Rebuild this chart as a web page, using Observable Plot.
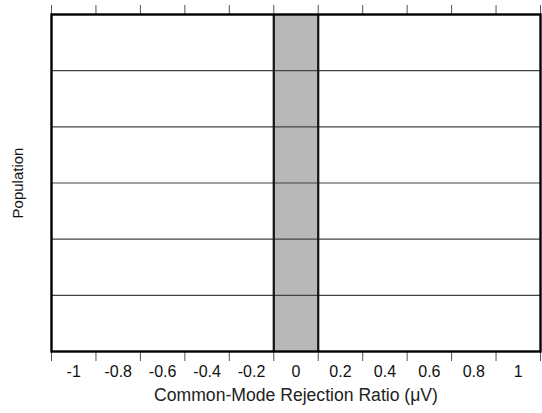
<!DOCTYPE html>
<html>
<head>
<meta charset="utf-8">
<script src="https://cdn.jsdelivr.net/npm/d3@7"></script>
<script src="https://cdn.jsdelivr.net/npm/@observablehq/plot@0.6"></script>
<style>
  html, body { margin: 0; padding: 0; background: #fff; }
  svg { display: block; }
</style>
</head>
<body>
<div id="chart"></div>
<script>
// Bin edges of the x axis (tick marks) and the bin centres (tick labels)
const binEdges = [-1.1, -0.9, -0.7, -0.5, -0.3, -0.1, 0.1, 0.3, 0.5, 0.7, 0.9, 1.1];
const binCenters = [-1, -0.8, -0.6, -0.4, -0.2, 0, 0.2, 0.4, 0.6, 0.8, 1];
const tickLabels = ["-1", "-0.8", "-0.6", "-0.4", "-0.2", "0", "0.2", "0.4", "0.6", "0.8", "1"];
// Highlighted bin
const highlightBins = [{x1: -0.1, x2: 0.1}];
// Population rows (horizontal separators)
const rowCount = 6;
const rowLines = [1, 2, 3, 4, 5];

const font = "Liberation Sans, Arial, Helvetica, sans-serif";

const chart = Plot.plot({
  width: 542,
  height: 413,
  marginLeft: 51,
  marginRight: 2,
  marginTop: 14,
  marginBottom: 62,
  style: {fontFamily: font, fontSize: "16px", color: "#000", background: "#fff"},
  x: {domain: [-1.1, 1.1]},
  y: {domain: [0, rowCount]},
  marks: [
    Plot.rect(highlightBins, {x1: "x1", x2: "x2", fill: "#b8b8b8", stroke: "none"}),
    Plot.ruleY(rowLines, {stroke: "#444", strokeWidth: 1.2}),
    Plot.ruleX(highlightBins.flatMap(d => [d.x1, d.x2]), {stroke: "#111", strokeWidth: 2.2}),
    Plot.axisX(binEdges, {anchor: "top", tickSize: 10, tickFormat: () => "", stroke: "#555", label: null}),
    Plot.axisX(binEdges, {anchor: "bottom", tickSize: 10, tickFormat: () => "", stroke: "#555", label: null}),
    Plot.axisX(binCenters, {anchor: "bottom", tickSize: 0, tickPadding: 14, tickFormat: (d, i) => tickLabels[i], fontSize: 16, fill: "#111", label: null}),
    Plot.axisY([], {anchor: "left", label: null, tickSize: 0}),
    Plot.frame({stroke: "#000", strokeWidth: 2.4}),
    Plot.text(["Common-Mode Rejection Ratio (μV)"], {frameAnchor: "bottom", dy: 49, fontSize: 17.6, fill: "#222"}),
    Plot.text(["Population"], {frameAnchor: "left", textAnchor: "middle", dx: -33, rotate: -90, fontSize: 15, fill: "#111"})
  ]
});
document.getElementById("chart").appendChild(chart);
</script>
</body>
</html>
